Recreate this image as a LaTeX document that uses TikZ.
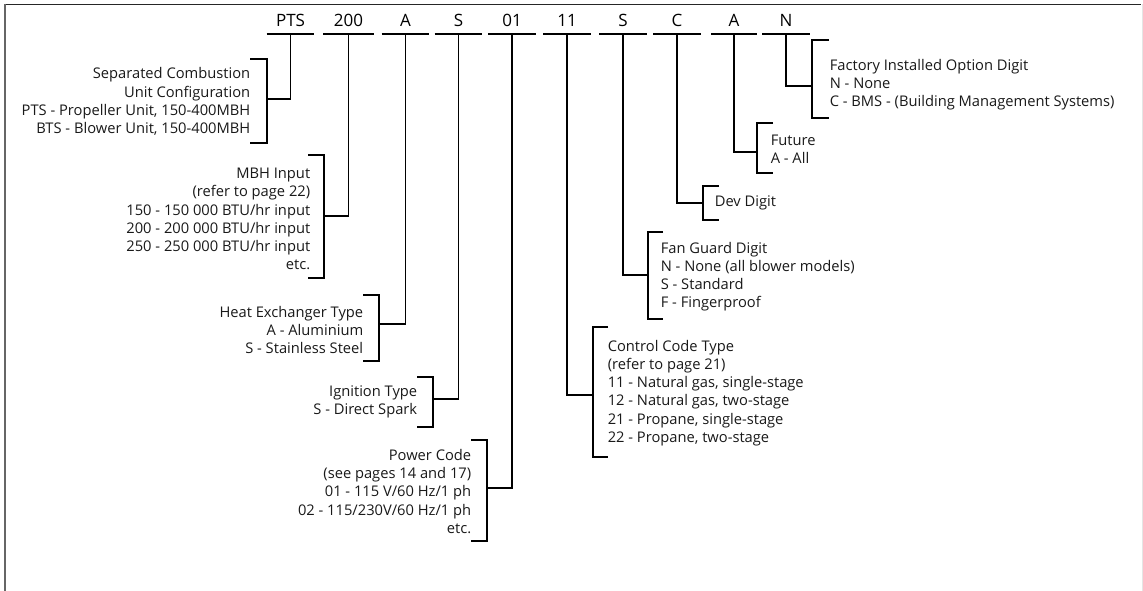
\documentclass[tikz,border=0pt]{standalone}
\usepackage{fontspec}
\setmainfont{Open Sans}
\begin{document}
\begin{tikzpicture}[x=1pt,y=-1pt,line width=1.6pt,
  code/.style={font=\fontsize{17}{17}\selectfont,anchor=base,text depth=0pt,inner xsep=0pt,inner ysep=6pt,minimum width=46pt},
  lbl/.style={font=\fontsize{14.7}{18.2}\selectfont,align=right,anchor=east,inner sep=0pt,text=black!90},
  rbl/.style={font=\fontsize{14.7}{18.2}\selectfont,align=left,anchor=west,inner sep=0pt,text=black!90},
  uline/.style={line width=1.6pt},
  link/.style={line width=1.6pt},
  brk/.style={line width=1.6pt}]
\useasboundingbox (0,0) rectangle (1143,591);
\draw[black!85,line width=1.2pt] (5,4.5) -- (1141,4.5);
\draw[black!60,line width=1.6pt] (5,4) -- (5,591);
\draw[black!10,line width=0.8pt] (1142,4) -- (1142,591);
% code digits
\node[code] (c1) at (290.5,27) {PTS};
\node[code,minimum width=49pt] (c2) at (348.5,27) {200};
\node[code] (c3) at (405.5,27) {A};
\node[code] (c4) at (458.5,27) {S};
\node[code] (c5) at (512,27) {01};
\node[code] (c6) at (567,27) {11};
\node[code] (c7) at (623,27) {S};
\node[code] (c8) at (677,27) {C};
\node[code,minimum width=44pt] (c9) at (734,27) {A};
\node[code] (c10) at (786,27) {N};
\foreach \c in {c1,c2,c3,c4,c5,c6,c7,c8,c9,c10}
  \draw[uline] (\c.south west) -- (\c.south east);
% brackets and junctions
\draw[brk] (250,59) -- (267,59) -- (267,143) -- (250,143);
\coordinate (j1) at (267,99);
\draw[brk] (308,155) -- (324,155) -- (324,278) -- (308,278);
\coordinate (j2) at (324,216);
\draw[brk] (363,295) -- (379,295) -- (379,361) -- (363,361);
\coordinate (j3) at (379,324);
\draw[brk] (417,377) -- (433,377) -- (433,427) -- (417,427);
\coordinate (j4) at (433,399);
\draw[brk] (471,440) -- (487,440) -- (487,541) -- (471,541);
\coordinate (j5) at (487,488);
\draw[brk] (608,327) -- (593,327) -- (593,457) -- (608,457);
\coordinate (j6) at (593,395);
\draw[brk] (663,232) -- (648,232) -- (648,319) -- (663,319);
\coordinate (j7) at (648,275);
\draw[brk] (719,186) -- (703,186) -- (703,220) -- (719,220);
\coordinate (j8) at (703,203);
\draw[brk] (773,123) -- (757,123) -- (757,173) -- (773,173);
\coordinate (j9) at (757,152);
\draw[brk] (829,40) -- (812,40) -- (812,118) -- (829,118);
\coordinate (j10) at (812,86);
% connectors
\draw[link] (c1.south) |- (j1);
\draw[link] (c2.south) |- (j2);
\draw[link] (c3.south) |- (j3);
\draw[link] (c4.south) |- (j4);
\draw[link] (c5.south) |- (j5);
\draw[link] (c6.south) |- (j6);
\draw[link] (c7.south) |- (j7);
\draw[link] (c8.south) |- (j8);
\draw[link] (c9.south) |- (j9);
\draw[link] (c10.south) |- (j10);
% labels
\node[lbl] (l1) at (251,101.5) {Separated Combustion\\Unit Configuration\\PTS - Propeller Unit, 150-400MBH\\BTS - Blower Unit, 150-400MBH};
\node[lbl] (l2) at (311,219) {MBH Input\\(refer to page 22)\\150 - 150 000 BTU/hr input\\200 - 200 000 BTU/hr input\\250 - 250 000 BTU/hr input\\etc.};
\node[lbl] (l3) at (364,330) {Heat Exchanger Type\\A - Aluminium\\S - Stainless Steel};
\node[lbl] (l4) at (418,401.5) {Ignition Type\\S - Direct Spark};
\node[lbl] (l5) at (472,491.5) {Power Code\\(see pages 14 and 17)\\01 - 115 V/60 Hz/1 ph\\02 - 115/230V/60 Hz/1 ph\\etc.};
\node[rbl] (l6) at (607,393) {Control Code Type\\(refer to page 21)\\11 - Natural gas, single-stage\\12 - Natural gas, two-stage\\21 - Propane, single-stage\\22 - Propane, two-stage};
\node[rbl] (l7) at (660,276.5) {Fan Guard Digit\\N - None (all blower models)\\S - Standard\\F - Fingerproof};
\node[rbl] (l8) at (714,203) {Dev Digit};
\node[rbl] (l9) at (770,149) {Future\\A - All};
\node[rbl] (l10) at (829,84.5) {Factory Installed Option Digit\\N - None\\C - BMS - (Building Management Systems)};
\end{tikzpicture}
\end{document}
